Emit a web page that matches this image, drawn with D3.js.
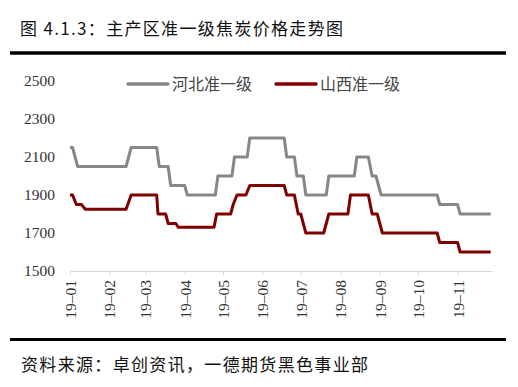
<!DOCTYPE html>
<html>
<head>
<meta charset="utf-8">
<script src="https://cdn.jsdelivr.net/npm/d3@7"></script>
<style>
  body { margin: 0; background: #fff; }
  svg { display: block; }
</style>
</head>
<body>
<svg id="chart" width="518" height="387"></svg>
<script>
// 河北准一级 price steps (date, yuan/ton)
const hebeiPoints = [
  ["2019-01-01", 2150], ["2019-01-03", 2150], ["2019-01-07", 2050], ["2019-02-14", 2050],
  ["2019-02-18", 2150], ["2019-03-10", 2150], ["2019-03-12", 2050], ["2019-03-19", 2050],
  ["2019-03-21", 1950], ["2019-04-01", 1950], ["2019-04-03", 1900], ["2019-04-25", 1900],
  ["2019-04-27", 2000], ["2019-05-08", 2000], ["2019-05-10", 2100], ["2019-05-20", 2100],
  ["2019-05-22", 2200], ["2019-06-18", 2200], ["2019-06-20", 2100], ["2019-06-26", 2100],
  ["2019-06-28", 2000], ["2019-07-03", 2000], ["2019-07-05", 1900], ["2019-07-21", 1900],
  ["2019-07-23", 2000], ["2019-08-12", 2000], ["2019-08-14", 2100], ["2019-08-23", 2100],
  ["2019-08-26", 2000], ["2019-08-29", 2000], ["2019-09-02", 1900], ["2019-10-16", 1900],
  ["2019-10-18", 1850], ["2019-11-01", 1850], ["2019-11-03", 1800], ["2019-11-27", 1800]
];

// 山西准一级 price steps
const shanxiPoints = [
  ["2019-01-01", 1900], ["2019-01-03", 1900], ["2019-01-06", 1850], ["2019-01-10", 1850],
  ["2019-01-13", 1825], ["2019-02-14", 1825], ["2019-02-18", 1900], ["2019-03-10", 1900],
  ["2019-03-11", 1800], ["2019-03-17", 1800], ["2019-03-19", 1750], ["2019-03-25", 1750],
  ["2019-03-27", 1730], ["2019-04-24", 1730], ["2019-04-26", 1800], ["2019-05-07", 1800],
  ["2019-05-09", 1850], ["2019-05-12", 1900], ["2019-05-19", 1900], ["2019-05-22", 1950],
  ["2019-06-18", 1950], ["2019-06-20", 1900], ["2019-06-26", 1900], ["2019-06-29", 1800],
  ["2019-07-01", 1800], ["2019-07-05", 1700], ["2019-07-19", 1700], ["2019-07-23", 1800],
  ["2019-08-07", 1800], ["2019-08-09", 1900], ["2019-08-23", 1900], ["2019-08-26", 1800],
  ["2019-08-30", 1800], ["2019-09-03", 1700], ["2019-10-16", 1700], ["2019-10-18", 1650],
  ["2019-11-01", 1650], ["2019-11-03", 1600], ["2019-11-27", 1600]
];

const seriesNames = ["河北准一级", "山西准一级"];
const yTicks = [1500, 1700, 1900, 2100, 2300, 2500];
const xTickMonths = ["2019-01-01", "2019-02-01", "2019-03-01", "2019-04-01", "2019-05-01",
  "2019-06-01", "2019-07-01", "2019-08-01", "2019-09-01", "2019-10-01", "2019-11-01"];

const parse = d3.timeParse("%Y-%m-%d");
const colors = ["#878787", "#800000"];
const serif = "'Liberation Serif', 'DejaVu Serif', serif";

const svg = d3.select("#chart");
const margin = { top: 81, right: 26, bottom: 116, left: 70 };
const width = 518, height = 387;

// Title and rules
svg.append("text")
  .attr("x", 20).attr("y", 35)
  .attr("textLength", 323).attr("lengthAdjust", "spacing")
  .style("font-family", "'Noto Sans CJK SC', sans-serif")
  .style("font-size", "17px")
  .style("fill", "#111")
  .text("图 4.1.3：主产区准一级焦炭价格走势图");

svg.append("line")
  .attr("x1", 10).attr("x2", 506).attr("y1", 53).attr("y2", 53)
  .style("stroke", "#000").style("stroke-width", 3.5);

svg.append("line")
  .attr("x1", 10).attr("x2", 506).attr("y1", 339.5).attr("y2", 339.5)
  .style("stroke", "#000").style("stroke-width", 3);

svg.append("text")
  .attr("x", 21).attr("y", 371)
  .attr("textLength", 347).attr("lengthAdjust", "spacing")
  .style("font-family", "'Noto Sans CJK SC', sans-serif")
  .style("font-size", "17px")
  .style("fill", "#111")
  .text("资料来源：卓创资讯，一德期货黑色事业部");

// Scales
const x = d3.scaleTime()
  .domain([parse("2019-01-01"), parse("2019-11-28")])
  .range([margin.left, width - margin.right]);

const y = d3.scaleLinear()
  .domain([1500, 2500])
  .range([height - margin.bottom, margin.top]);

// X axis
const xAxis = svg.append("g")
  .attr("transform", `translate(0,${height - margin.bottom})`)
  .call(d3.axisBottom(x)
    .tickValues(xTickMonths.map(parse))
    .tickSize(4)
    .tickSizeOuter(0)
    .tickFormat(d3.timeFormat("%y–%m")));

xAxis.select(".domain").style("stroke", "#d9d9d9");
xAxis.selectAll(".tick line").style("stroke", "#d9d9d9");
xAxis.selectAll("text")
  .attr("transform", "rotate(-90)")
  .attr("x", -9)
  .attr("y", 0)
  .attr("dy", "0.35em")
  .style("text-anchor", "end")
  .style("font-family", serif)
  .style("font-size", "15.5px")
  .style("fill", "#333");

// Y axis (labels only)
const yAxis = svg.append("g")
  .attr("transform", `translate(${margin.left - 15},0)`)
  .call(d3.axisLeft(y).tickValues(yTicks).tickSize(0).tickPadding(0)
    .tickFormat(d3.format("d")));

yAxis.select(".domain").remove();
yAxis.selectAll("text")
  .style("font-family", serif)
  .style("font-size", "15.5px")
  .style("fill", "#333");

// Lines
const line = d3.line()
  .x(d => x(parse(d[0])))
  .y(d => y(d[1]));

[hebeiPoints, shanxiPoints].forEach((pts, i) => {
  svg.append("path")
    .datum(pts)
    .attr("d", line)
    .style("fill", "none")
    .style("stroke", colors[i])
    .style("stroke-width", 3)
    .style("stroke-linejoin", "round");
});

// Legend
const legendX = [128, 276];
seriesNames.forEach((name, i) => {
  const g = svg.append("g").attr("transform", `translate(${legendX[i]},84)`);
  g.append("line")
    .attr("x1", 0).attr("x2", 40)
    .style("stroke", colors[i])
    .style("stroke-width", 3.5)
    .style("stroke-linecap", "round");
  g.append("text")
    .attr("x", 44).attr("y", 6)
    .style("font-family", "'Noto Sans CJK SC', sans-serif")
    .style("font-size", "16px")
    .style("fill", "#444")
    .text(name);
});
</script>
</body>
</html>
